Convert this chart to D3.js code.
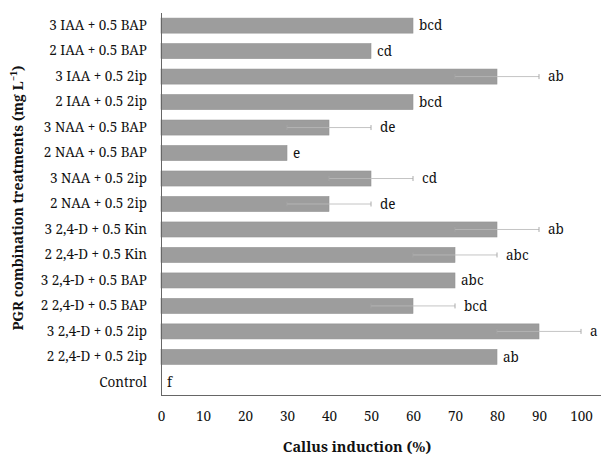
<!DOCTYPE html>
<html>
<head>
<meta charset="utf-8">
<script src="https://cdn.jsdelivr.net/npm/d3@7"></script>
<style>
  body { margin: 0; background: #fff; }
</style>
</head>
<body>
<svg></svg>
<script>
// data, top to bottom
let treatments = ['3 IAA + 0.5 BAP', '2 IAA + 0.5 BAP', '3 IAA + 0.5 2ip', '2 IAA + 0.5 2ip',
                  '3 NAA + 0.5 BAP', '2 NAA + 0.5 BAP', '3 NAA + 0.5 2ip', '2 NAA + 0.5 2ip',
                  '3 2,4-D + 0.5 Kin', '2 2,4-D + 0.5 Kin', '3 2,4-D + 0.5 BAP', '2 2,4-D + 0.5 BAP',
                  '3 2,4-D + 0.5 2ip', '2 2,4-D + 0.5 2ip', 'Control']
let induction = [60, 50, 80, 60, 40, 30, 50, 40, 80, 70, 70, 60, 90, 80, 0]
let errors    = [0, 0, 10, 0, 10, 0, 10, 10, 10, 10, 0, 10, 10, 0, 0]
let letters   = ['bcd', 'cd', 'ab', 'bcd', 'de', 'e', 'cd', 'de', 'ab', 'abc', 'abc', 'bcd', 'a', 'ab', 'f']
let xTicks    = [0, 10, 20, 30, 40, 50, 60, 70, 80, 90, 100]

let rows = treatments.map((t, i) => ({name: t, v: induction[i], err: errors[i], lab: letters[i]}))

let font = '"Noto Serif", "Liberation Serif", serif'
let width = 601, height = 455
let margin = {top: 13, right: 20, bottom: 60, left: 161}

let svg = d3.select('svg')
            .attr('width', width)
            .attr('height', height)
            .style('font-family', font)

let xScale = d3.scaleLinear()
      .domain([0, 100])
      .range([margin.left, 581])

let yScale = d3.scaleBand()
      .domain(treatments)
      .range([margin.top, height - margin.bottom])
      .paddingInner(0.41)
      .paddingOuter(0.2)

// bars
svg.selectAll('rect.bar')
   .data(rows)
   .enter()
   .append('rect')
   .attr('class', 'bar')
   .attr('x', xScale(0))
   .attr('y', d => yScale(d.name))
   .attr('width', d => xScale(d.v) - xScale(0))
   .attr('height', yScale.bandwidth())
   .attr('fill', '#9d9d9d')
   .attr('stroke', '#939393')
   .attr('stroke-width', 0.6)

// error bars
let withErr = rows.filter(d => d.err > 0)
let eb = svg.selectAll('g.err')
   .data(withErr)
   .enter()
   .append('g')
   .attr('class', 'err')
   .attr('transform', d => 'translate(0,' + (yScale(d.name) + yScale.bandwidth() / 2) + ')')

eb.append('line')
  .attr('x1', d => xScale(d.v - d.err))
  .attr('x2', d => xScale(d.v))
  .attr('stroke', '#b4b4b4')
  .attr('stroke-width', 1)
eb.append('line')
  .attr('x1', d => xScale(d.v))
  .attr('x2', d => xScale(d.v + d.err))
  .attr('stroke', '#c4c4c4')
  .attr('stroke-width', 1)
eb.append('line')
  .attr('x1', d => xScale(d.v + d.err))
  .attr('x2', d => xScale(d.v + d.err))
  .attr('y1', -2.5).attr('y2', 2.5)
  .attr('stroke', '#aaa')
eb.append('line')
  .attr('x1', d => xScale(d.v - d.err))
  .attr('x2', d => xScale(d.v - d.err))
  .attr('y1', -2.5).attr('y2', 2.5)
  .attr('stroke', '#aaa')
  .attr('stroke-opacity', 0.6)

// significance letters
svg.selectAll('text.sig')
   .data(rows)
   .enter()
   .append('text')
   .attr('class', 'sig')
   .attr('x', d => d.err > 0 ? xScale(d.v + d.err) + 9 : xScale(d.v) + 6)
   .attr('y', d => yScale(d.name) + yScale.bandwidth() / 2)
   .attr('dy', '0.35em')
   .style('font-family', font)
   .style('font-size', '13.5px')
   .style('fill', '#111')
   .text(d => d.lab)

// axes
let yAxis = d3.axisLeft(yScale).tickSize(0).tickPadding(14)
let gy = svg.append('g')
   .attr('transform', 'translate(' + margin.left + ',0)')
   .call(yAxis)
gy.select('.domain').attr('stroke', '#666').attr('d', 'M0.5,' + margin.top + 'V' + (height - margin.bottom))
gy.selectAll('.tick text').style('font-size', '13.5px').style('font-family', font).style('fill', '#111')

let xAxis = d3.axisBottom(xScale).tickValues(xTicks).tickSize(0).tickPadding(16)
let gx = svg.append('g')
   .attr('transform', 'translate(0,' + (height - margin.bottom) + ')')
   .call(xAxis)
gx.select('.domain').attr('stroke', '#666').attr('d', 'M' + margin.left + ',0.5H' + width)
gx.selectAll('.tick text').style('font-size', '13.5px').style('font-family', font).style('fill', '#111')

// titles
svg.append('text')
   .attr('x', 357)
   .attr('y', 452)
   .attr('text-anchor', 'middle')
   .style('font-family', font)
   .style('font-size', '14.5px')
   .style('font-weight', 'bold')
   .style('fill', '#111')
   .text('Callus induction (%)')

let yt = svg.append('text')
   .attr('transform', 'translate(23,198) rotate(-90)')
   .attr('text-anchor', 'middle')
   .style('font-family', font)
   .style('font-size', '14px')
   .style('font-weight', 'bold')
   .style('fill', '#111')
yt.append('tspan').text('PGR combination treatments (mg L')
yt.append('tspan').attr('dy', -6).style('font-size', '9px').text('−1')
yt.append('tspan').attr('dy', 6).text(')')
</script>
</body>
</html>
